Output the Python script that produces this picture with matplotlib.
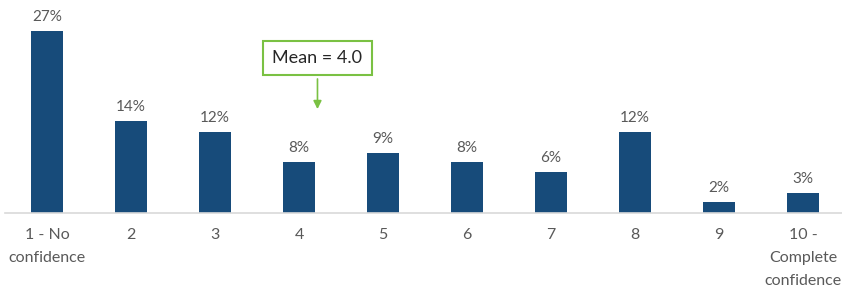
import matplotlib.pyplot as plt

categories = ["1 - No\nconfidence", "2", "3", "4", "5", "6", "7", "8", "9",
              "10 -\nComplete\nconfidence"]
shares = [27.0, 13.6, 12.0, 7.6, 8.9, 7.6, 6.1, 12.0, 1.6, 3.0]
mean_label = "Mean = 4.0"
mean_pos = 3  # category "4"

bar_color = "#174B7A"
text_color = "#595959"

plt.rcParams['font.family'] = ['Lato', 'DejaVu Sans']

fig = plt.figure(figsize=(8.42, 2.9), dpi=100)
ax = fig.add_axes([5 / 842, 77 / 290, 840 / 842, 213 / 290])

x = list(range(len(categories)))
bars = ax.bar(x, shares, width=0.38, color=bar_color)

for xi, v in zip(x, shares):
    ax.annotate(f"{v:.0f}%", (xi, v), xytext=(0, 5), textcoords="offset points",
                ha="center", va="bottom", fontsize=11, color=text_color)

ax.set_xlim(-0.5, len(categories) - 0.5)
ax.set_ylim(0, 31.6)
ax.set_xticks(x)
ax.set_xticklabels(categories, fontsize=11.5, color=text_color, linespacing=1.8)
ax.tick_params(axis="x", length=0, pad=11)
ax.set_yticks([])
for s in ["top", "right", "left"]:
    ax.spines[s].set_visible(False)
ax.spines["bottom"].set_color("#D9D9D9")
ax.spines["bottom"].set_linewidth(1.2)

# mean callout
ax.annotate("", xy=(mean_pos + 0.22, 15.0), xytext=(mean_pos + 0.22, 20.3),
            arrowprops=dict(arrowstyle="-|>", color="#7AC143", lw=1.2,
                            mutation_scale=12))
ax.text(mean_pos + 0.22, 23.0, mean_label, ha="center", va="center",
        fontsize=13, color="#262626",
        bbox=dict(boxstyle="square,pad=0.5", fc="white", ec="#7AC143", lw=1.5))

fig.savefig("out.png", dpi=100)
